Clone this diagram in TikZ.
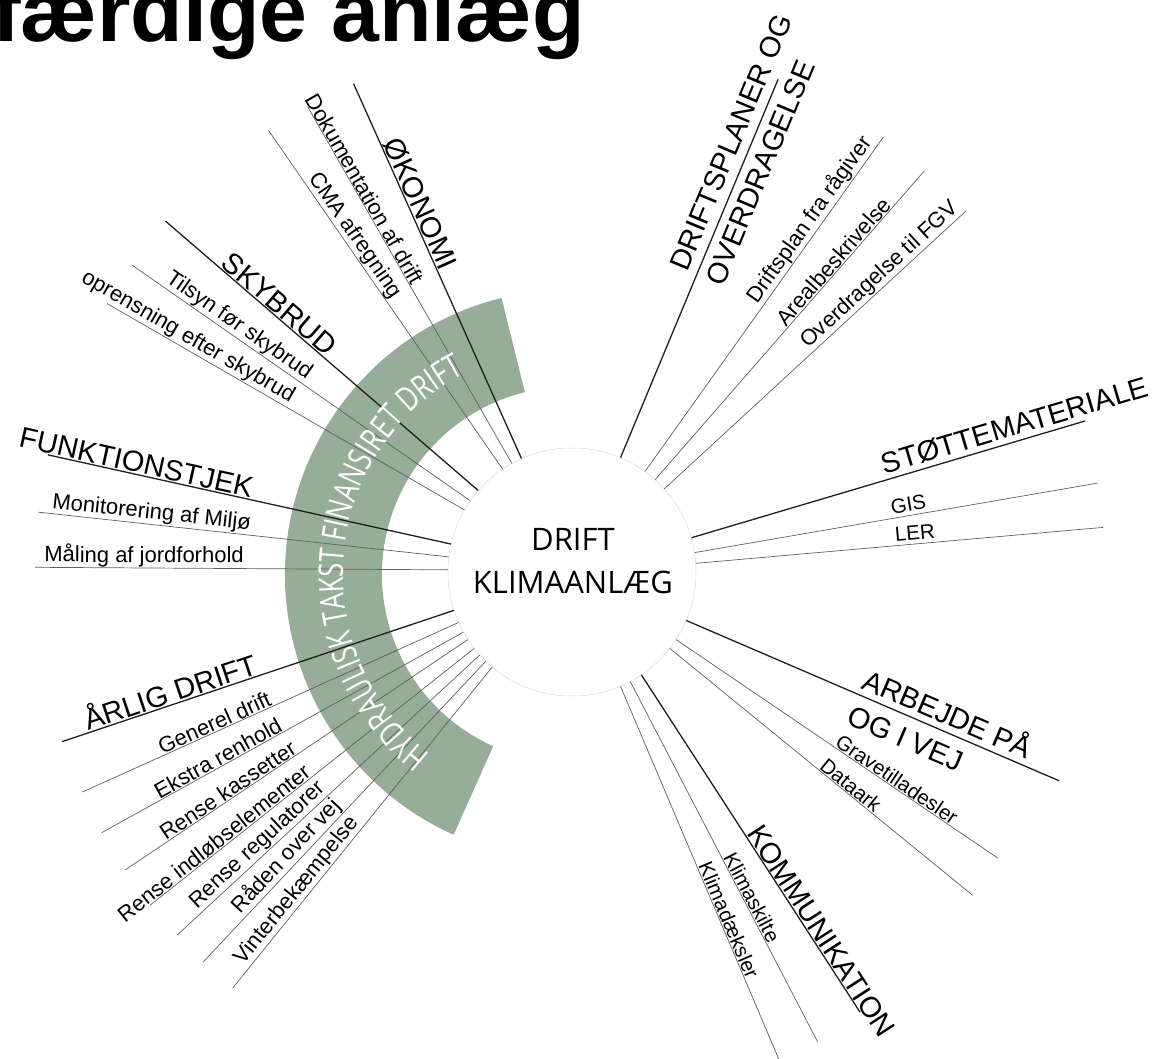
\documentclass[tikz,border=0pt]{standalone}
\usepackage{fontspec}
\setmainfont{Liberation Sans}
\newfontfamily\hubfont{Open Sans}
\newfontfamily\bandfont[FakeStretch=0.75]{Open Sans}
\usetikzlibrary{decorations.text}
\definecolor{bandgreen}{RGB}{150,173,151}
\definecolor{subgray}{RGB}{95,95,95}
\definecolor{rimgray}{RGB}{218,218,218}

\begin{document}
\begin{tikzpicture}[x=1pt,y=1pt,
  mainline/.style={draw=black!88, line width=1.3pt},
  subline/.style={draw=subgray, line width=0.7pt},
  catlbl/.style={font=\fontsize{29}{38.5}\selectfont, sloped, above, inner sep=1.5pt, outer sep=0pt},
  sublbl/.style={font=\fontsize{22}{26}\selectfont, sloped, above, inner sep=1pt, outer sep=0pt},
  smalllbl/.style={font=\fontsize{20.5}{24}\selectfont, sloped, above, inner sep=1pt, outer sep=0pt},
  pairlbl/.style={font=\fontsize{29}{38.5}\selectfont, sloped, anchor=west, align=left, inner sep=0pt, outer sep=0pt},
]
\useasboundingbox (-572,-487) rectangle (582,572);

% heading, partly cut by the page edge
\node[font=\bfseries\fontsize{86}{86}\selectfont, anchor=base west, inner sep=0pt] (title) at (-580,530) {færdige anlæg};

% green band
\begin{scope}[shift={(-2,-2.6)}]
  \fill[bandgreen] (103.9:285) arc[start angle=103.9, end angle=245.9, radius=285]
    -- (245.9:188) arc[start angle=245.9, end angle=103.9, radius=188] -- cycle;
\end{scope}

% hub
\node[circle, draw=rimgray, line width=0.5pt, fill=white, minimum size=248pt, inner sep=0pt] (hub) at (0,0) {};
\node[font=\hubfont\fontsize{31}{42.6}\selectfont, align=center, inner sep=0pt] (hubtext) at (1,11) {DRIFT\\KLIMAANLÆG};

% outer ends of the spokes
\coordinate (e-oko) at (114.1:535);
\coordinate (e-dok) at (119.6:535);
\coordinate (e-cma) at (124.5:536);
\coordinate (e-sky) at (139.2:537);
\coordinate (e-til) at (145.1:536.5);
\coordinate (e-opr) at (150.0:537);
\coordinate (e-fun) at (167.4:537);
\coordinate (e-mon) at (173.6:537);
\coordinate (e-maa) at (179.5:537);
\coordinate (e-aar) at (198.4:537.6);
\coordinate (e-gen) at (204.2:537);
\coordinate (e-eks) at (209.0:537.6);
\coordinate (e-kas) at (213.7:537);
\coordinate (e-ind) at (218.3:537.6);
\coordinate (e-reg) at (222.6:536.5);
\coordinate (e-raa) at (226.6:537);
\coordinate (e-vin) at (230.8:536.6);
\coordinate (e-dpl) at (67.3:534);
\coordinate (e-fra) at (54.4:535);
\coordinate (e-are) at (48.7:533.6);
\coordinate (e-ove) at (42.5:534);
\coordinate (e-sto) at (16.4:535);
\coordinate (e-gis) at (9.6:533);
\coordinate (e-ler) at (4.8:533);
\coordinate (e-arb) at (-23.2:530);
\coordinate (e-gra) at (-33.9:513);
\coordinate (e-dat) at (-38.9:515);
\coordinate (e-kom) at (-56.8:526);
\coordinate (e-ksk) at (-62.4:530);
\coordinate (e-kdk) at (-67.0:530);

% ØKONOMI
\draw[subline] (hub.119.6) -- node[sublbl, pos=0.757] (l-dok) {Dokumentation af drift} (e-dok);
\draw[subline] (hub.124.5) -- node[sublbl, pos=0.67] (l-cma) {CMA afregning} (e-cma);
\draw[mainline] (hub.114.1) -- node[catlbl, pos=0.667] (l-oko) {ØKONOMI} (e-oko);

% SKYBRUD
\draw[subline] (hub.145.1) -- node[sublbl, pos=0.703] (l-til) {Tilsyn før skybrud} (e-til);
\draw[subline] (hub.150.0) -- node[sublbl, pos=0.789] (l-opr) {oprensning efter skybrud} (e-opr);
\draw[mainline] (hub.139.2) -- node[catlbl, pos=0.66] (l-sky) {SKYBRUD} (e-sky);

% FUNKTIONSTJEK
\draw[subline] (hub.173.6) -- node[sublbl, pos=0.727] (l-mon) {Monitorering af Miljø} (e-mon);
\draw[subline] (hub.179.5) -- node[sublbl, pos=0.736] (l-maa) {Måling af jordforhold} (e-maa);
\draw[mainline] (hub.167.4) -- node[catlbl, pos=0.787] (l-fun) {FUNKTIONSTJEK} (e-fun);

% ÅRLIG DRIFT
\draw[subline] (hub.204.2) -- node[sublbl, pos=0.639] (l-gen) {Generel drift} (e-gen);
\draw[subline] (hub.209.0) -- node[sublbl, pos=0.667] (l-eks) {Ekstra renhold} (e-eks);
\draw[subline] (hub.213.7) -- node[sublbl, pos=0.686] (l-kas) {Rense kassetter} (e-kas);
\draw[subline] (hub.218.3) -- node[sublbl, pos=0.786] (l-ind) {Rense indløbselementer} (e-ind);
\draw[subline] (hub.222.6) -- node[sublbl, pos=0.708] (l-reg) {Rense regulatorer} (e-reg);
\draw[subline] (hub.226.6) -- node[sublbl, pos=0.675] (l-raa) {Råden over vej} (e-raa);
\draw[subline] (hub.230.8) -- node[sublbl, pos=0.719] (l-vin) {Vinterbekæmpelse} (e-vin);
\draw[mainline] (hub.198.4) -- node[catlbl, pos=0.713] (l-aar) {ÅRLIG DRIFT} (e-aar);

% DRIFTSPLANER OG OVERDRAGELSE
\draw[subline] (hub.54.4) -- node[sublbl, pos=0.732] (l-fra) {Driftsplan fra rågiver} (e-fra);
\draw[subline] (hub.48.7) -- node[sublbl, pos=0.688] (l-are) {Arealbeskrivelse} (e-are);
\draw[subline] (hub.42.5) -- node[sublbl, pos=0.741] (l-ove) {Overdragelse til FGV} (e-ove);
\draw[mainline] (hub.67.3) -- node[pairlbl, pos=0.48] (l-dpl) {DRIFTSPLANER OG\\OVERDRAGELSE} (e-dpl);

% STØTTEMATERIALE
\draw[subline] (hub.9.6) -- node[smalllbl, pos=0.535, inner sep=4pt] (l-gis) {GIS} (e-gis);
\draw[subline] (hub.4.8) -- node[smalllbl, pos=0.54, inner sep=4pt] (l-ler) {LER} (e-ler);
\draw[mainline] (hub.16.4) -- node[catlbl, pos=0.832, inner sep=5pt] (l-sto) {STØTTEMATERIALE} (e-sto);

% ARBEJDE PÅ OG I VEJ
\draw[subline] (hub.-33.9) -- node[smalllbl, pos=0.672] (l-gra) {Gravetilladesler} (e-gra);
\draw[subline] (hub.-38.9) -- node[smalllbl, pos=0.58] (l-dat) {Dataark} (e-dat);
\draw[mainline] (hub.-23.2) -- node[pairlbl, pos=0.46] (l-arb) {ARBEJDE PÅ\\OG I VEJ} (e-arb);

% KOMMUNIKATION
\draw[subline] (hub.-62.4) -- node[smalllbl, pos=0.61] (l-ksk) {Klimaskilte} (e-ksk);
\draw[subline] (hub.-67.0) -- node[smalllbl, pos=0.635] (l-kdk) {Klimadæksler} (e-kdk);
\draw[mainline] (hub.-56.8) -- node[catlbl, pos=0.778] (l-kom) {KOMMUNIKATION} (e-kom);

% lettering along the band
\begin{scope}[shift={(-2,-2.6)}]
  \path[decorate, decoration={text along path, text align=center,
      text={|\bandfont\fontsize{34}{34}\selectfont\color{white}|HYDRAULISK TAKST FINANSIRET DRIFT}}]
    (245.9:227) arc[start angle=245.9, end angle=103.9, radius=227];
\end{scope}
\end{tikzpicture}
\end{document}
